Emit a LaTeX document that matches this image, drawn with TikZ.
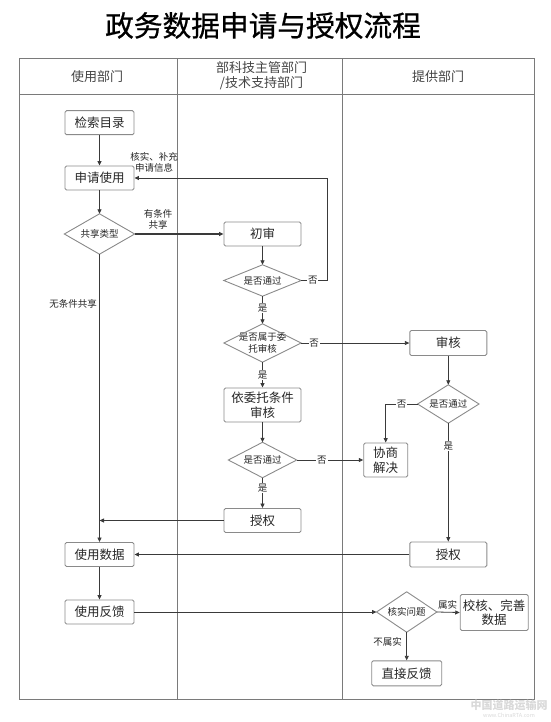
\documentclass[tikz,border=0pt]{standalone}
\usepackage{fontspec}
\setmainfont{Noto Sans CJK SC}
\newfontfamily\titlefont[FakeBold=0.7]{Noto Sans CJK SC}
\usetikzlibrary{arrows.meta}
\definecolor{linec}{HTML}{3A3A3A}
\definecolor{boxc}{HTML}{8A8A8A}
\definecolor{tabc}{HTML}{7A7A7A}
\definecolor{headc}{HTML}{444444}
\begin{document}
\begin{tikzpicture}[x=1pt,y=-1pt,
  box/.style={draw=boxc, line width=0.9pt, rounded corners=1.5pt, inner sep=0pt,
    font=\fontsize{12.5}{14.5}\selectfont, align=center, text=black!85},
  dia/.style={inner sep=0pt, font=\fontsize{9.5}{11.5}\selectfont, align=center, text=black!85},
  lab/.style={font=\fontsize{9.5}{11}\selectfont, fill=white, inner sep=0.8pt, text=black!85},
  note/.style={font=\fontsize{9.5}{11.5}\selectfont, inner sep=0pt, align=center, text=black!85},
  arr/.style={draw=linec, line width=0.8pt, -{Triangle[length=4.5pt,width=4pt]}},
  tab/.style={draw=tabc, line width=1pt},
  head/.style={font=\fontsize{13}{15}\selectfont, align=center, text=headc}
]
\useasboundingbox (0,0) rectangle (550,722);

% title
\node[font=\titlefont\fontsize{28.7}{31}\selectfont] (title) at (263,25.5) {政务数据申请与授权流程};

% table
\draw[tab] (19,58.5) rectangle (534,699.3);
\draw[tab] (19,94.5) -- (534,94.5);
\draw[tab] (177.5,58.5) -- (177.5,699.3);
\draw[tab] (342.7,58.5) -- (342.7,699.3);
\node[head] (h1) at (97,76.5) {使用部门};
\node[head] (h2) at (261.5,76) {部科技主管部门\\/技术支持部门};
\node[head] (h3) at (438,76.5) {提供部门};

% left lane
\node[box, minimum width=69pt, minimum height=24pt] (t1) at (99.5,122.7) {检索目录};
\node[box, minimum width=69pt, minimum height=24pt] (t2) at (99.5,178) {申请使用};
\node[dia, minimum width=70pt, minimum height=40pt] (d1) at (99.5,234) {共享类型};
\node[box, minimum width=69pt, minimum height=24pt] (t3) at (99.5,554.5) {使用数据};
\node[box, minimum width=69pt, minimum height=24pt] (t4) at (99.5,612) {使用反馈};

% middle lane
\node[box, minimum width=77pt, minimum height=24pt] (m1) at (262.5,234) {初审};
\node[dia, minimum width=77pt, minimum height=31pt] (d2) at (262.5,280.5) {是否通过};
\node[dia, minimum width=77pt, minimum height=38pt] (d3) at (262.5,343) {是否属于委\\托审核};
\node[box, minimum width=77pt, minimum height=34pt] (m2) at (262.5,405) {依委托条件\\审核};
\node[dia, minimum width=68pt, minimum height=35pt] (d4) at (262.5,460) {是否通过};
\node[box, minimum width=77pt, minimum height=24pt] (m3) at (262.5,520.5) {授权};

% right lane
\node[box, minimum width=77pt, minimum height=25pt] (r1) at (448.3,343) {审核};
\node[dia, minimum width=61pt, minimum height=38pt] (d5) at (448.3,404) {是否通过};
\node[box, minimum width=44pt, minimum height=34pt] (r2) at (385.7,460) {协商\\解决};
\node[box, minimum width=77pt, minimum height=25pt] (r3) at (448.3,554.5) {授权};
\node[dia, minimum width=60pt, minimum height=40pt] (d6) at (406.7,612) {核实问题};
\node[box, minimum width=68pt, minimum height=36pt] (r4) at (494.2,612.5) {校核、完善\\数据};
\node[box, minimum width=70pt, minimum height=25pt] (r5) at (406.7,673.3) {直接反馈};

% diamonds
\foreach \n in {d1,d2,d3,d4,d5,d6}
  \draw[draw=boxc, line width=0.9pt] (\n.north) -- (\n.east) -- (\n.south) -- (\n.west) -- cycle;

% helper coordinates
\coordinate (c1) at (327,280.5);
\coordinate (c2) at (327,178);

% connectors
\draw[arr] (t1.south) -- (t2.north);
\draw[arr] (t2.south) -- (d1.north);
\draw[arr, line width=1.2pt] (d1.east) -- (m1.west);
\draw[arr] (d1.south) -- (t3.north);
\draw[arr] (m1.south) -- (d2.north);
\draw[arr] (d2.east) -- node[lab, pos=0.45] {否} (c1) -- (c2) -- (t2.east);
\draw[arr] (d2.south) -- node[lab, pos=0.42] {是} (d3.north);
\draw[arr] (d3.east) -- node[lab, pos=0.12] {否} (r1.west);
\draw[arr] (d3.south) -- node[lab, pos=0.5] {是} (m2.north);
\draw[arr] (m2.south) -- (d4.north);
\draw[arr] (d4.east) -- node[lab, pos=0.38] {否} (r2.west);
\draw[arr] (d4.south) -- node[lab, pos=0.35] {是} (m3.north);
\draw[arr] (m3.west) -- (d1.south |- m3.west);
\draw[arr] (r1.south) -- (d5.north);
\draw[arr] (d5.west) -- node[lab, pos=0.5] {否} (r2.north |- d5.west) -- (r2.north);
\draw[arr] (d5.south) -- node[lab, pos=0.19] {是} (r3.north);
\draw[arr] (r3.west) -- (t3.east);
\draw[arr] (t3.south) -- (t4.north);
\draw[arr] (t4.east) -- (d6.west);
\draw[arr] (d6.east) -- (r4.west);
\draw[arr] (d6.south) -- (r5.north);

% free labels
\node[note] (n1) at (154,162.5) {核实、补充\\申请信息};
\node[note] (n2) at (158,219.5) {有条件\\共享};
\node[note] (n3) at (73,304) {无条件共享};
\node[note] (n4) at (447.5,604.5) {属实};
\node[note] (n5) at (387.5,641.7) {不属实};

% watermark
\node[font=\fontsize{11}{12}\selectfont\bfseries, text=black!15] (wm1) at (509,705) {中国道路运输网};
\node[font=\fontsize{5.5}{6}\selectfont, text=black!15] (wm2) at (509,715.5) {www.ChinaRTA.com};
\end{tikzpicture}
\end{document}
